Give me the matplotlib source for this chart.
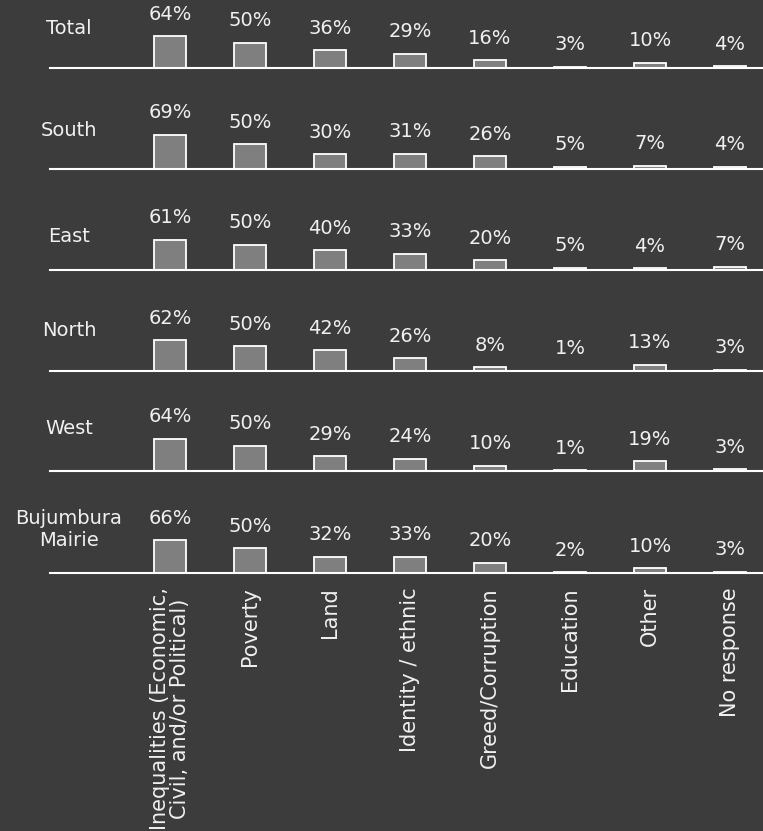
import numpy as np
import matplotlib
matplotlib.use('Agg')
from matplotlib import pyplot as plt

# causes of conflict, share of respondents per region (%)
categories = ['Inequalities (Economic,\nCivil, and/or Political)', 'Poverty', 'Land',
              'Identity / ethnic', 'Greed/Corruption', 'Education', 'Other', 'No response']
regions = ['Total', 'South', 'East', 'North', 'West', 'Bujumbura\nMairie']
total = [64, 50, 36, 29, 16, 3, 10, 4]
south = [69, 50, 30, 31, 26, 5, 7, 4]
east = [61, 50, 40, 33, 20, 5, 4, 7]
north = [62, 50, 42, 26, 8, 1, 13, 3]
west = [64, 50, 29, 24, 10, 1, 19, 3]
bujumbura = [66, 50, 32, 33, 20, 2, 10, 3]
values = [total, south, east, north, west, bujumbura]

BG = '#3c3c3c'
FG = '#f0f0f0'
FS = 14
plt.rcParams['font.family'] = ['DejaVu Sans']

W, H = 763, 831
fig = plt.figure(figsize=(W / 100, H / 100), dpi=100, facecolor=BG)

baselines = [68, 169, 270, 371, 471, 573]
label_dy = [39, 39, 34, 40, 43, 43]
row_h = 95
x_left, x_right = 50, 763
x = np.arange(len(categories))
# bar centres sit 80 px apart starting at 170 px
xlim = ((x_left - 170) / 80, (x_right - 170) / 80)

for r, (name, vals) in enumerate(zip(regions, values)):
    base = baselines[r]
    ax = fig.add_axes([x_left / W, 1 - base / H, (x_right - x_left) / W, row_h / H])
    ax.set_facecolor('none')
    ax.bar(x, vals, width=0.4, color='#7f7f7f', edgecolor='white', linewidth=1.3,
           zorder=2, clip_on=False)
    ax.set_xlim(*xlim)
    ax.set_ylim(0, row_h * 2)
    for xi, v in zip(x, vals):
        ax.annotate(f'{v}%', (xi, v), xytext=(0, 22 * 0.72), textcoords='offset points',
                    ha='center', va='center', color=FG, fontsize=FS)
    for s in ['top', 'right', 'left']:
        ax.spines[s].set_visible(False)
    ax.spines['bottom'].set_color('white')
    ax.spines['bottom'].set_linewidth(1.5)
    ax.set_yticks([])
    ax.set_xticks([])
    fig.text(69 / W, 1 - (base - label_dy[r]) / H, name, ha='center', va='center',
             color=FG, fontsize=FS, linespacing=1.2)

    if r == len(regions) - 1:
        ax.set_xticks(x)
        ax.set_xticklabels(categories, rotation=90, ha='center', va='top',
                           multialignment='center', color=FG, fontsize=15,
                           linespacing=1.0)
        ax.tick_params(axis='x', length=0, pad=10)

fig.savefig('out.png', dpi=100, facecolor=BG)
